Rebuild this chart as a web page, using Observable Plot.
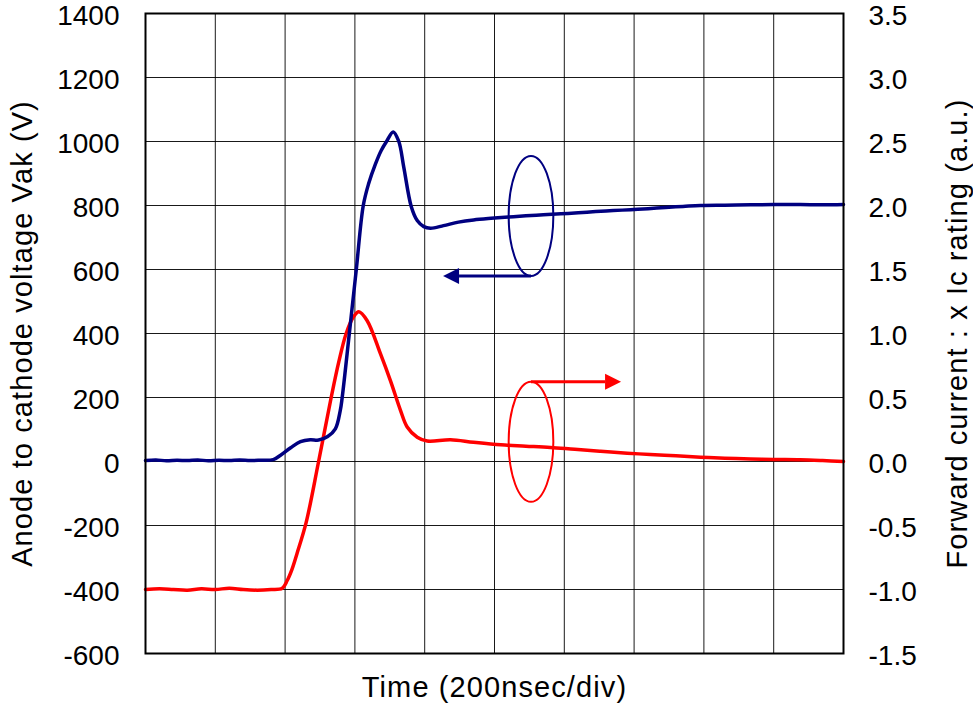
<!DOCTYPE html>
<html>
<head>
<meta charset="utf-8">
<script src="https://cdn.jsdelivr.net/npm/d3@7"></script>
<script src="https://cdn.jsdelivr.net/npm/@observablehq/plot@0.6"></script>
<style>
  html, body { margin: 0; padding: 0; background: #fff; }
  #chart svg { display: block; }
</style>
</head>
<body>
<div id="chart"></div>
<script>
// ---- Data (time in divisions of 200 ns) ----
const voltTime = [0.00,0.15,0.30,0.45,0.60,0.75,0.90,1.05,1.20,1.35,1.50,1.65,1.83,1.93,2.08,2.22,2.36,2.48,2.61,2.72,2.79,2.818,2.92,3.02,3.12,3.195,3.295,3.377,3.453,3.549,3.629,3.70,3.807,3.893,3.987,4.083,4.269,4.484,4.70,4.95,5.20,5.45,5.70,5.95,6.20,6.45,6.70,6.95,7.20,7.45,7.70,7.95,8.30,8.67,9.00,9.38,9.70,10.0];
const voltValue = [3,5,2,4,3,5,2,4,3,5,3,4,6,19,43,62,68,67,78,102,159,200,400,600,800,867,930,972,1000,1030,1000,920,797,753,734,729,737,748,755,760,764,768,771,774,777,781,784,787,790,794,797,800,801,802,803,803,802,803];

const currTime = [0.00,0.20,0.40,0.60,0.80,1.00,1.20,1.40,1.60,1.80,1.96,2.03,2.10,2.17,2.30,2.48,2.66,2.77,2.875,2.98,3.056,3.176,3.367,3.51,3.653,3.749,3.893,4.036,4.37,4.70,5.09,5.45,5.80,6.15,6.52,6.90,7.23,7.60,7.95,8.30,8.67,9.00,9.38,9.70,10.0];
const currValue = [-1.0,-0.995,-1.0,-1.005,-0.995,-1.0,-0.99,-1.0,-1.005,-1.0,-0.99,-0.93,-0.84,-0.72,-0.48,0.0,0.50,0.78,1.0,1.13,1.17,1.10,0.84,0.63,0.40,0.27,0.19,0.16,0.17,0.15,0.13,0.12,0.11,0.095,0.08,0.065,0.055,0.045,0.034,0.026,0.02,0.016,0.013,0.007,0.0];

const voltTicks = [-600,-400,-200,0,200,400,600,800,1000,1200,1400];
const currTicks = [-1.5,-1.0,-0.5,0.0,0.5,1.0,1.5,2.0,2.5,3.0,3.5];
const timeGrid = [0,1,2,3,4,5,6,7,8,9,10];

// current axis maps onto the voltage axis: 3.5 a.u. <-> 1400 V
const currToVolt = 1400 / 3.5;

// annotation ellipses (center / radii in data units) with arrows
const noteColor = ["#000080", "#ff0000"];
const noteCx = [5.53, 5.53];
const noteCy = [766, 0.15 * currToVolt];
const noteRx = [0.32, 0.32];
const noteRy = [187.5, 187.5];
const noteArrowSide = [-1, 1];     // -1: arrow leaves from bottom of ellipse, 1: from top
const noteTipX = [4.27, 6.82];

const voltData = voltTime.map((t, i) => ({t, v: voltValue[i]}));
const currData = currTime.map((t, i) => ({t, v: currValue[i] * currToVolt}));

const font = "'Liberation Sans', Arial, sans-serif";
const fs = 28;
const titleStyle = {fontSize: 29, fill: "#000", textAnchor: "middle", lineAnchor: "middle"};

function annotations(index, scales) {
  const {x, y} = scales;
  const g = d3.create("svg:g");
  noteColor.forEach((c, i) => {
    const cx = x(noteCx[i]), cy = y(noteCy[i]);
    const rx = Math.abs(x(noteCx[i] + noteRx[i]) - cx);
    const ry = Math.abs(y(noteCy[i] + noteRy[i]) - cy);
    g.append("ellipse").attr("cx", cx).attr("cy", cy).attr("rx", rx).attr("ry", ry)
      .attr("fill", "none").attr("stroke", c).attr("stroke-width", 2);
    const ay = y(noteCy[i] + noteArrowSide[i] * noteRy[i]);
    const tx = x(noteTipX[i]);
    const dir = Math.sign(tx - cx);
    const headLen = 16, headHalf = 8;
    g.append("line").attr("x1", cx).attr("y1", ay).attr("x2", tx - dir * headLen).attr("y2", ay)
      .attr("stroke", c).attr("stroke-width", 3);
    g.append("path")
      .attr("d", `M${tx},${ay}L${tx - dir * headLen},${ay - headHalf}L${tx - dir * headLen},${ay + headHalf}Z`)
      .attr("fill", c);
  });
  return g.node();
}

const chart = Plot.plot({
  width: 973,
  height: 704,
  marginLeft: 145,
  marginRight: 130,
  marginTop: 13,
  marginBottom: 51,
  style: {fontFamily: font, fontSize: fs + "px", color: "#000", background: "#fff", overflow: "visible"},
  x: {domain: [0, 10], axis: null},
  y: {domain: [-600, 1400], axis: null},
  marks: [
    Plot.ruleX(timeGrid, {stroke: "#000", strokeOpacity: 0.9, strokeWidth: 1}),
    Plot.ruleY(voltTicks, {stroke: "#000", strokeOpacity: 0.9, strokeWidth: 1}),
    Plot.axisY({anchor: "left", ticks: voltTicks, tickSize: 0, tickPadding: 26, dy: 3, tickFormat: d => String(d), label: null, fontSize: fs}),
    Plot.axisY({anchor: "right", ticks: currTicks.map(c => c * currToVolt), tickSize: 0, tickPadding: 25, dy: 3,
      tickFormat: d => (d / currToVolt).toFixed(1), label: null, fontSize: fs}),
    Plot.line(currData, {x: "t", y: "v", stroke: "#ff0000", strokeWidth: 3.5, curve: "catmull-rom"}),
    Plot.line(voltData, {x: "t", y: "v", stroke: "#000080", strokeWidth: 3.5, curve: "catmull-rom"}),
    annotations,
    Plot.frame({stroke: "#000", strokeWidth: 2}),
    Plot.text(["Anode to cathode voltage Vak (V)"], {frameAnchor: "left", dx: -123, rotate: -90, ...titleStyle}),
    Plot.text(["Forward current : x Ic rating (a.u.)"], {frameAnchor: "right", dx: 114, rotate: -90, ...titleStyle}),
    Plot.text(["Time (200nsec/div)"], {frameAnchor: "bottom", dy: 34, ...titleStyle})
  ]
});
// widen the axis titles slightly to match the reference's letter spacing
d3.select(chart).selectAll('g[aria-label="text"] text').attr("letter-spacing", "1.1px");
document.getElementById("chart").appendChild(chart);
</script>
</body>
</html>
